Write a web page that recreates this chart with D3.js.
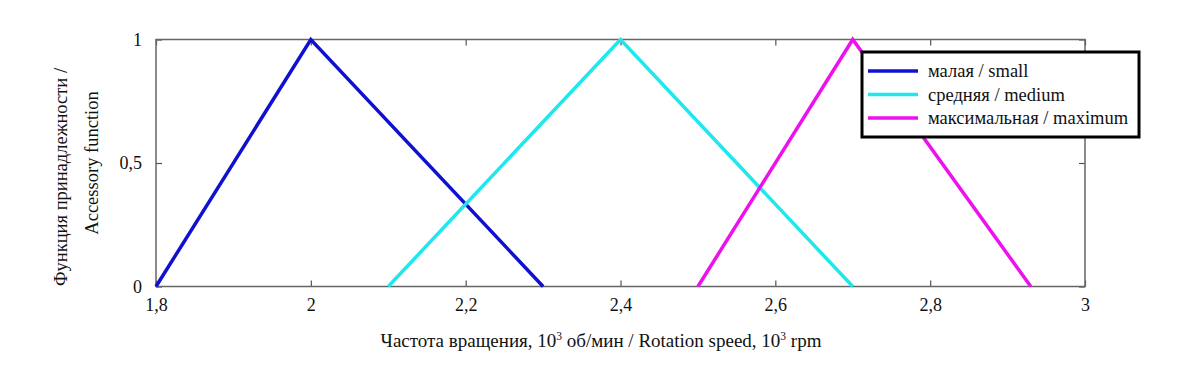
<!DOCTYPE html>
<html><head><meta charset="utf-8">
<script src="https://cdn.jsdelivr.net/npm/d3@7"></script>
<style>body{margin:0;background:#fff}svg{display:block}svg text{font-family:"Liberation Serif","Times New Roman",Times,serif !important;fill:#111}</style>
</head><body><svg id="c" width="1200" height="368"></svg>
<script>
const seriesNames = ["малая / small", "средняя / medium", "максимальная / maximum"];
const seriesColors = ["#1010d0", "#1ee8ee", "#ee10ee"];
const smallX = [1.8, 2.0, 2.3], smallY = [0, 1, 0];
const mediumX = [2.1, 2.4, 2.7], mediumY = [0, 1, 0];
const maxX = [2.5, 2.7, 2.93], maxY = [0, 1, 0];
const xTicks = [1.8, 2.0, 2.2, 2.4, 2.6, 2.8, 3.0];
const xTickLabels = ["1,8", "2", "2,2", "2,4", "2,6", "2,8", "3"];
const yTicks = [0, 0.5, 1];
const yTickLabels = ["0", "0,5", "1"];

const svg = d3.select("#c");
const L = 156, R = 1085, T = 39.5, B = 286.5;
const x = d3.scaleLinear().domain([1.8, 3.0]).range([L, R]);
const y = d3.scaleLinear().domain([0, 1]).range([B, T]);

const fmtX = d => xTickLabels[xTicks.indexOf(d)];
const fmtY = d => yTickLabels[yTicks.indexOf(d)];

function styleAxis(g){
  g.attr("font-family", null);
  g.select(".domain").remove();
  g.selectAll("line").attr("stroke","#555").attr("stroke-width",1.2);
  g.selectAll("text").style("font-size","18px").attr("fill","#111");
}
svg.append("g").attr("transform",`translate(0,${B})`)
  .call(d3.axisBottom(x).tickValues(xTicks).tickFormat(fmtX).tickSizeInner(-6).tickSizeOuter(0).tickPadding(12))
  .call(styleAxis);
svg.append("g").attr("transform",`translate(0,${T})`)
  .call(d3.axisTop(x).tickValues(xTicks).tickFormat("").tickSizeInner(-6).tickSizeOuter(0))
  .call(styleAxis);
svg.append("g").attr("transform",`translate(${L},0)`)
  .call(d3.axisLeft(y).tickValues(yTicks).tickFormat(fmtY).tickSizeInner(-6).tickSizeOuter(0).tickPadding(14))
  .call(styleAxis);
svg.append("g").attr("transform",`translate(${R},0)`)
  .call(d3.axisRight(y).tickValues(yTicks).tickFormat("").tickSizeInner(-6).tickSizeOuter(0))
  .call(styleAxis);

svg.append("rect").attr("x",L).attr("y",T).attr("width",R-L).attr("height",B-T)
  .attr("fill","none").attr("stroke","#666").attr("stroke-width",1.5);

const series = [[smallX, smallY],[mediumX, mediumY],[maxX, maxY]];
const line = d3.line().x(d=>x(d[0])).y(d=>y(d[1]));
series.forEach((s,i)=>{
  const pts = s[0].map((v,j)=>[v, s[1][j]]);
  svg.append("path").datum(pts).attr("d",line).attr("fill","none")
    .attr("stroke",seriesColors[i]).attr("stroke-width",3.5).attr("stroke-linejoin","miter");
});

// legend
const lg = svg.append("g");
lg.append("rect").attr("x",862).attr("y",52).attr("width",277).attr("height",85)
  .attr("fill","#fff").attr("stroke","#000").attr("stroke-width",3);
seriesNames.forEach((n,i)=>{
  const yy = 71 + i*23.5;
  lg.append("line").attr("x1",868).attr("x2",918).attr("y1",yy).attr("y2",yy)
    .attr("stroke",seriesColors[i]).attr("stroke-width",3.5);
  lg.append("text").attr("x",928).attr("y",yy+6).style("font-size","18.5px").text(n);
});

// axis titles
const xt = svg.append("text").attr("x",601).attr("y",347).attr("text-anchor","middle").style("font-size","19px");
xt.append("tspan").text("Частота вращения, 10");
xt.append("tspan").attr("dy",-7).style("font-size","11.5px").text("3");
xt.append("tspan").attr("dy",7).text(" об/мин / Rotation speed, 10");
xt.append("tspan").attr("dy",-7).style("font-size","11.5px").text("3");
xt.append("tspan").attr("dy",7).text(" rpm");

svg.append("text").attr("transform","translate(67,177) rotate(-90)").attr("text-anchor","middle")
  .style("font-size","18.5px").text("Функция принадлежности /");
svg.append("text").attr("transform","translate(98,163) rotate(-90)").attr("text-anchor","middle")
  .style("font-size","18.5px").text("Accessory function");
</script></body></html>
